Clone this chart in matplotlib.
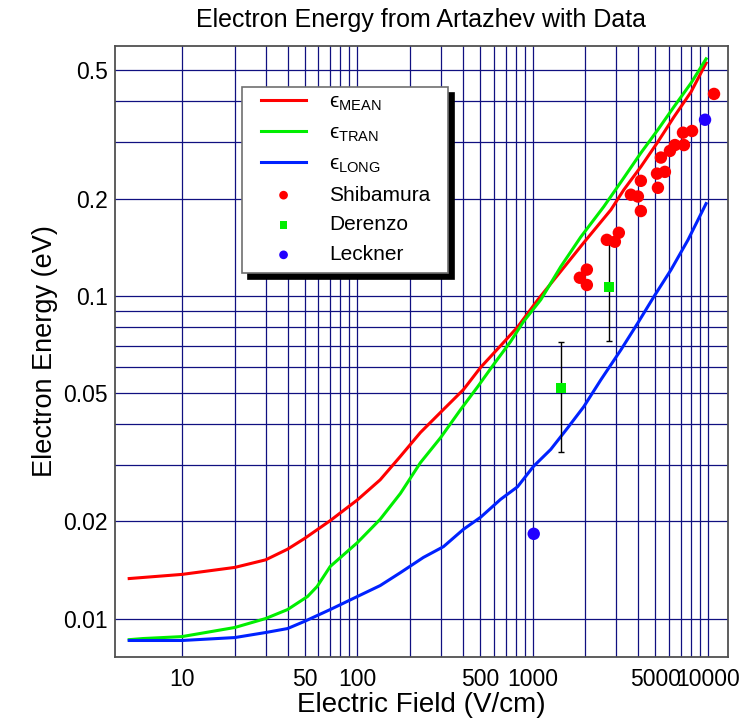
import matplotlib
matplotlib.use("Agg")
import matplotlib.pyplot as plt
from matplotlib.patches import Rectangle
from matplotlib.ticker import FixedLocator, NullFormatter

plt.rcParams['font.family'] = ['Liberation Sans', 'DejaVu Sans']
plt.rcParams['mathtext.fontset'] = 'custom'
plt.rcParams['mathtext.rm'] = 'Liberation Sans'
plt.rcParams['mathtext.it'] = 'Liberation Sans:italic'
plt.rcParams['mathtext.fallback'] = 'stixsans'

# mean energy (red)
e_mean = [5, 10, 20, 30, 40, 50, 70, 100, 135, 176, 229, 298, 403, 505, 656, 820,
          1070, 1445, 1955, 2790, 3310, 4140, 5180, 6390, 8000, 9750]
y_mean = [0.0133, 0.0137, 0.0144, 0.0152, 0.0164, 0.0177, 0.0201, 0.0233, 0.0269, 0.0318,
          0.0377, 0.0435, 0.0512, 0.060, 0.070, 0.080, 0.0972, 0.119, 0.146, 0.1845,
          0.213, 0.251, 0.300, 0.358, 0.428, 0.526]

# transverse energy (green)
e_tran = [5, 6, 10, 20, 30, 40, 52, 59, 70, 100, 135, 176, 229, 298, 387, 485, 597, 748,
          887, 1112, 1445, 1879, 2547, 3311, 4140, 5180, 6394, 8000, 9750]
y_tran = [0.0086, 0.00867, 0.00879, 0.00938, 0.0100, 0.01066, 0.0117, 0.01257, 0.01449,
          0.01718, 0.0203, 0.0244, 0.0304, 0.0363, 0.0443, 0.0522, 0.0611, 0.0721, 0.0832,
          0.0972, 0.123, 0.152, 0.189, 0.232, 0.277, 0.327, 0.385, 0.456, 0.542]

# longitudinal energy (blue)
e_long = [5, 10, 20, 30, 40, 50, 70, 100, 135, 176, 238, 310, 403, 505, 656, 820, 1010,
          1267, 1585, 1955, 2448, 3186, 3981, 4909, 6148, 7690, 9750]
y_long = [0.00855, 0.00855, 0.00873, 0.00905, 0.00931, 0.0098, 0.01066, 0.0117, 0.01265,
          0.01387, 0.01546, 0.0167, 0.0189, 0.0206, 0.0234, 0.0256, 0.0296, 0.0334, 0.039,
          0.0453, 0.0549, 0.068, 0.0824, 0.0993, 0.1203, 0.149, 0.193]

# measurements
shib_e = [1858, 2037, 2037, 2648, 2943, 3100, 3631, 3981, 4140, 4140, 5117, 5180, 5677,
          5387, 6063, 6475, 7290, 7196, 8110, 10820]
shib_y = [0.1137, 0.1205, 0.108, 0.149, 0.147, 0.1567, 0.2056, 0.203, 0.227, 0.183, 0.239,
          0.216, 0.242, 0.268, 0.281, 0.293, 0.293, 0.320, 0.324, 0.422]

der_e = [1445, 2716]
der_y = [0.0519, 0.1066]
der_lo = [0.0329, 0.0726]
der_hi = [0.0721, 0.1449]

leck_e = [1014, 9616]
leck_y = [0.0183, 0.351]

x_ticks = [10, 50, 100, 500, 1000, 5000, 10000]
x_labels = ['10', '50', '100', '500', '1000', '5000', '10000']
y_ticks = [0.01, 0.02, 0.05, 0.1, 0.2, 0.5]
y_labels = ['0.01', '0.02', '0.05', '0.1', '0.2', '0.5']

W, H = 747, 721
fig = plt.figure(figsize=(W / 100, H / 100), dpi=100)
AX_L, AX_B, AX_W, AX_H = 115, 657, 613, 611
ax = fig.add_axes([AX_L / W, 1 - AX_B / H, AX_W / W, AX_H / H])
ax.set_xscale('log')
ax.set_yscale('log')
ax.set_xlim(4.15, 13000)
ax.set_ylim(0.0076, 0.594)

# grid lines
x_grid = [k * 10 ** d for d in range(1, 4) for k in range(1, 10)] + [10000]
y_grid = [k / 100 for k in range(1, 10)] + [k / 10 for k in range(1, 6)]
ax.xaxis.set_major_locator(FixedLocator(x_ticks))
ax.yaxis.set_major_locator(FixedLocator(y_ticks))
ax.xaxis.set_minor_locator(FixedLocator(x_grid))
ax.yaxis.set_minor_locator(FixedLocator(y_grid))
ax.xaxis.set_minor_formatter(NullFormatter())
ax.yaxis.set_minor_formatter(NullFormatter())
ax.set_xticklabels(x_labels)
ax.set_yticklabels(y_labels)
ax.grid(True, which='both', color='#101080', lw=0.9)
ax.set_axisbelow(True)
ax.tick_params(which='both', length=0, labelsize=16.5)
ax.tick_params(axis='x', pad=8)
ax.tick_params(axis='y', pad=5)

for s in ax.spines.values():
    s.set_color('#505050')
    s.set_linewidth(1.3)

ax.plot(e_mean, y_mean, color='#ff0000', lw=2.2, label='\u03f5$_{\\mathrm{MEAN}}$')
ax.plot(e_tran, y_tran, color='#00ee00', lw=2.2, label='\u03f5$_{\\mathrm{TRAN}}$')
ax.plot(e_long, y_long, color='#0022ff', lw=2.2, label='\u03f5$_{\\mathrm{LONG}}$')

ax.scatter(shib_e, shib_y, s=80, color='#ff0000', edgecolors='none', zorder=4, label='Shibamura')
yerr = [[v - lo for v, lo in zip(der_y, der_lo)], [hi - v for v, hi in zip(der_y, der_hi)]]
ax.errorbar(der_e, der_y, yerr=yerr, fmt='none', ecolor='black', elinewidth=1, capsize=2.5, zorder=3)
ax.scatter(der_e, der_y, s=55, marker='s', color='#00ee00', edgecolors='none', zorder=4, label='Derenzo')
ax.scatter(leck_e, leck_y, s=80, color='#2200ff', edgecolors='none', zorder=4, label='Leckner')

# legend box with a hard black shadow
bx0, by0, bx1, by1 = 242, 87, 448, 273
sh = 6
for off, fc, ec in [(sh, 'black', 'black'), (0, 'white', '#707070')]:
    ax.add_patch(Rectangle(((bx0 + off - AX_L) / AX_W, (AX_B - by1 - off) / AX_H),
                           (bx1 - bx0) / AX_W, (by1 - by0) / AX_H, transform=ax.transAxes,
                           facecolor=fc, edgecolor=ec, lw=1.2, zorder=6 if off == 0 else 5.9))

leg = ax.legend(loc='upper left', bbox_to_anchor=(0.207, 0.955), borderaxespad=0,
                fontsize=15, frameon=False, handlelength=2.2,
                handletextpad=1.1, labelspacing=0.52, borderpad=0.9, markerscale=0.7)
leg.set_zorder(7)

ax.set_title('Electron Energy from Artazhev with Data', fontsize=18, pad=14)
ax.set_xlabel('Electric Field (V/cm)', fontsize=20, labelpad=1)
ax.set_ylabel('Electron Energy (eV)', fontsize=19.5, labelpad=4)

fig.savefig('out.png', dpi=100)
